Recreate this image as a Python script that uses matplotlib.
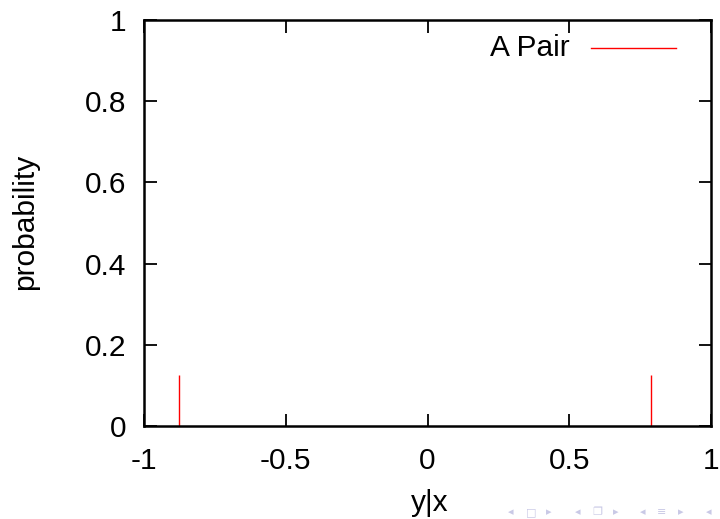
import matplotlib
matplotlib.use("Agg")
import matplotlib.pyplot as plt

x_vals = [-0.875, 0.79]
probs = [0.125, 0.125]
series_label = "A Pair"
xticks = [-1, -0.5, 0, 0.5, 1]
xticklabels = ["-1", "-0.5", "0", "0.5", "1"]
yticks = [0, 0.2, 0.4, 0.6, 0.8, 1]
yticklabels = ["0", "0.2", "0.4", "0.6", "0.8", "1"]

plt.rcParams['font.family'] = ['Liberation Sans', 'DejaVu Sans']
W, H = 720, 519
FS = 21.5
fig = plt.figure(figsize=(W/100, H/100), dpi=100)
ax = fig.add_axes([144/W, 1-426/H, (711-144)/W, (426-20)/H])

ax.vlines(x_vals, 0, probs, colors='red', linewidth=1.0, label=series_label)
ax.set_xlim(-1, 1)
ax.set_ylim(0, 1)
ax.set_xticks(xticks)
ax.set_xticklabels(xticklabels)
ax.set_yticks(yticks)
ax.set_yticklabels(yticklabels)
ax.tick_params(direction='in', length=9, width=1.3, labelsize=FS, top=True, right=True)
ax.tick_params(axis='y', pad=13)
ax.tick_params(axis='x', pad=15)
for s in ax.spines.values():
    s.set_linewidth(1.8)

fig.text(430/W, 1-503/H, "y|x", ha='center', va='center', fontsize=FS)
fig.text(25/W, 1-222/H, "probability", ha='center', va='center', fontsize=FS, rotation=90)

# legend drawn gnuplot-style
fig.text(570/W, 1-48/H, series_label, ha='right', va='center', fontsize=FS)
ax.plot([591/W, 676/W], [1-48/H, 1-48/H], transform=fig.transFigure, color='red', linewidth=1.0, clip_on=False)

# beamer navigation symbols
nav_color = '#c9c9e6'
nav = [(511, '◂'), (531, '□'), (549, '▸'), (578, '◂'), (597, '❐'), (616, '▸'),
       (643, '◂'), (662, '≡'), (681, '▸'), (709, '◂')]
for px, ch in nav:
    fig.text(px/W, 1-512/H, ch, ha='center', va='center', fontsize=8, color=nav_color,
             family=['DejaVu Sans'])

fig.savefig("out.png", dpi=100)
